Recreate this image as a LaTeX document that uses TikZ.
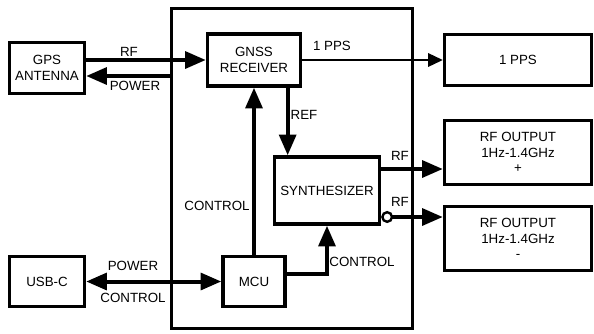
\documentclass[tikz,border=0pt]{standalone}
\usepackage{fontspec}
\setmainfont{Liberation Sans}
\usetikzlibrary{
    arrows.meta,
    positioning,
    calc
}

\begin{document}
\begin{tikzpicture}[
    x=0.75pt, y=-0.75pt,
    block/.style={
        rectangle,
        draw=black,
        line width=2.5pt,
        font=\fontsize{10}{11.6}\selectfont,
        inner sep=0pt,
        align=center
    },
    tag/.style={
        font=\fontsize{10}{11.6}\selectfont,
        inner sep=0pt
    },
    arrow/.style={draw, line width=3pt, -{Triangle[length=15.5pt,width=12.5pt]}},
    dblarrow/.style={draw, line width=3pt, {Triangle[length=15.5pt,width=12.5pt]}-{Triangle[length=15.5pt,width=12.5pt]}},
    invarrow/.style={draw, line width=3pt, {Circle[length=9pt,fill=white,line width=1.8pt]}-{Triangle[length=15.5pt,width=12.5pt]}},
    thinarrow/.style={draw, line width=1.6pt, -{Triangle[length=11pt,width=10pt]}}
]

\useasboundingbox (0,0) rectangle (594,333);

% Board outline
\node[block, line width=2.25pt, minimum width=180.75pt, minimum height=240pt] (board) at (292,168.5) {};

% Outside blocks
\node[block, minimum width=56.25pt, minimum height=38.25pt] (antenna) at (47,68) {GPS\\ANTENNA};
\node[block, minimum width=56.25pt, minimum height=37.5pt] (usbc) at (47,281.5) {USB-C};
\node[block, minimum width=110.25pt, minimum height=38.25pt] (pps) at (518,60) {1 PPS};
\node[block, minimum width=110.25pt, minimum height=48pt] (rfp) at (518,152.5) {RF OUTPUT\\1Hz-1.4GHz\\+};
\node[block, minimum width=110.25pt, minimum height=48pt] (rfn) at (518,238.5) {RF OUTPUT\\1Hz-1.4GHz\\-};

% Board blocks
\node[block, minimum width=69.75pt, minimum height=39pt] (gnss) at (254,60) {GNSS\\RECEIVER};
\node[block, minimum width=78.75pt, minimum height=50.25pt] (synth) at (327,190.5) {SYNTHESIZER};
\node[block, minimum width=46.5pt, minimum height=37.5pt] (mcu) at (254,281.5) {MCU};

% Antenna links
\coordinate (pwr) at ($(antenna.east)+(0,8)$);
\draw[arrow] (gnss.west -| antenna.east) -- (gnss.west);
\draw[arrow] (board.west |- pwr) -- (pwr);
\node[tag] (rftag) at (129,52) {RF};
\node[tag] (pwrtag) at (135,86) {POWER};

% Receiver outputs
\coordinate (refout) at ($(gnss.south east)+(-14.5,0)$);
\draw[thinarrow] (gnss.east) -- (gnss.east -| pps.west);
\draw[arrow] (refout) -- (refout |- synth.north);
\node[tag] (ppstag) at (332,46) {1 PPS};
\node[tag] (reftag) at (304,115) {REF};

% MCU control
\draw[arrow] (mcu.north) -- (gnss.south);
\draw[arrow] ($(mcu.east)+(0,-7.5)$) -| (synth.south);
\node[tag] (ctltag) at (217,206) {CONTROL};
\node[tag] (synctltag) at (362,262) {CONTROL};

% USB link
\draw[dblarrow] (usbc) -- (mcu);
\node[tag] (usbpwrtag) at (133,266) {POWER};
\node[tag] (usbctltag) at (133,298) {CONTROL};

% RF outputs
\coordinate (rfpout) at ($(synth.east)+(0,-21.5)$);
\coordinate (rfnout) at ($(synth.east)+(0,26.5)$);
\draw[arrow] (rfpout) -- (rfpout -| rfp.west);
\draw[invarrow] (rfnout) -- (rfnout -| rfn.west);
\node[tag] (rfptag) at (400,156) {RF};
\node[tag] (rfntag) at (400,202) {RF};

\end{tikzpicture}
\end{document}
